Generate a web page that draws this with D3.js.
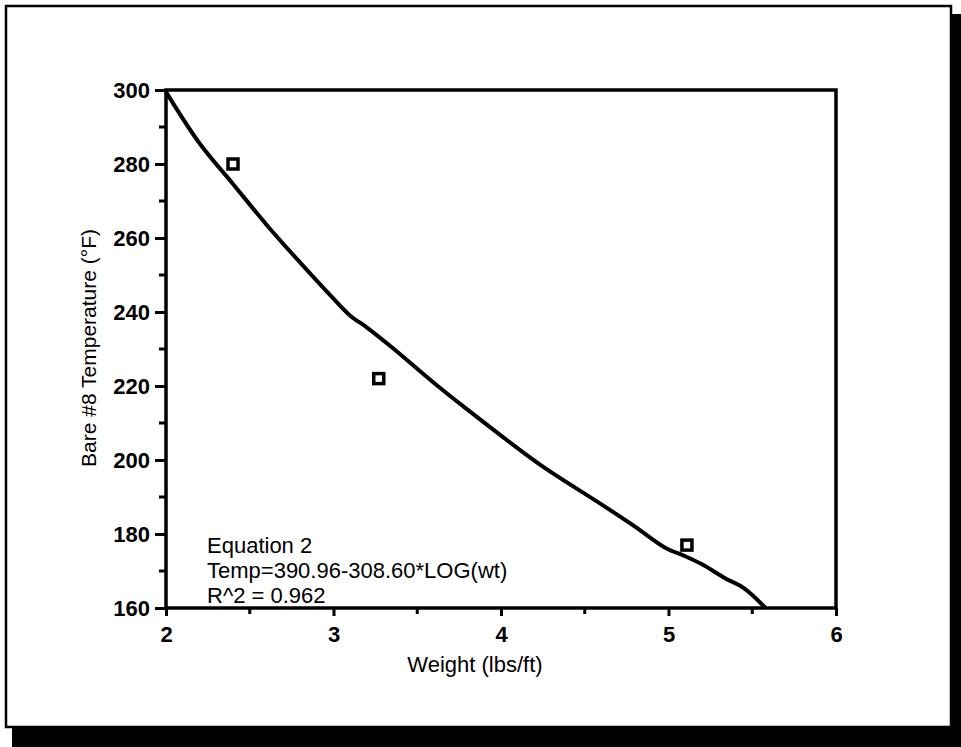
<!DOCTYPE html>
<html>
<head>
<meta charset="utf-8">
<script src="https://cdn.jsdelivr.net/npm/d3@7"></script>
<style>
  body { margin: 0; background: #fff; }
  text { font-family: "Liberation Sans", Arial, sans-serif; fill: #000; }
</style>
</head>
<body>
<script>
// fitted curve
let curveWt   = [2.0, 2.2, 2.4, 2.6, 2.8, 3.0, 3.1, 3.2, 3.35, 3.6, 3.8, 4.0, 4.25, 4.6, 4.8, 4.98, 5.1, 5.2, 5.34, 5.45, 5.58];
let curveTemp = [299.5, 285.6, 274.6, 263.6, 253.4, 243.6, 239.0, 235.8, 230.4, 220.8, 213.6, 206.6, 198.2, 188.0, 182.0, 176.3, 174.0, 171.8, 168.0, 165.4, 160];

// measured points
let pointWt   = [2.40, 3.27, 5.11];
let pointTemp = [280, 222, 177];

let xTicks = [2, 3, 4, 5, 6];
let yTicks = [160, 180, 200, 220, 240, 260, 280, 300];
let xMinor = [2.5, 3.5, 4.5, 5.5];
let yMinor = [170, 190, 210, 230, 250, 270, 290];

let noteLines = ["Equation 2", "Temp=390.96-308.60*LOG(wt)", "R^2 = 0.962"];

function main() {
    let svg = d3.select("body").append("svg")
        .attr("width", 961)
        .attr("height", 747);

    // frame with drop shadow
    svg.append("rect")
        .attr("x", 12).attr("y", 14)
        .attr("width", 949).attr("height", 733)
        .attr("fill", "#000");
    svg.append("rect")
        .attr("x", 6).attr("y", 6)
        .attr("width", 945).attr("height", 721)
        .attr("fill", "#fff")
        .attr("stroke", "#000")
        .attr("stroke-width", 2.5);

    let xScale = d3.scaleLinear().domain([2, 6]).range([166, 836]);
    let yScale = d3.scaleLinear().domain([160, 300]).range([608, 90]);

    let xAxis = d3.axisBottom(xScale).tickValues(xTicks).tickFormat(d3.format("d"))
        .tickSize(8).tickPadding(10);
    let yAxis = d3.axisLeft(yScale).tickValues(yTicks).tickFormat(d3.format("d"))
        .tickSize(11).tickPadding(5);

    let gx = svg.append("g")
        .attr("transform", `translate(0,${608})`)
        .call(xAxis);
    let gy = svg.append("g")
        .attr("transform", `translate(${166},0)`)
        .call(yAxis);

    [gx, gy].forEach(g => {
        g.select(".domain").remove();
        g.selectAll("line").attr("stroke", "#000").attr("stroke-width", 3);
        g.selectAll("text")
            .style("font-size", "22px")
            .style("font-weight", "bold")
            .attr("fill", "#000");
    });

    // minor ticks
    svg.append("g").selectAll("line")
        .data(xMinor).enter().append("line")
        .attr("x1", d => xScale(d)).attr("x2", d => xScale(d))
        .attr("y1", 608).attr("y2", 614)
        .attr("stroke", "#000").attr("stroke-width", 3);
    svg.append("g").selectAll("line")
        .data(yMinor).enter().append("line")
        .attr("y1", d => yScale(d)).attr("y2", d => yScale(d))
        .attr("x1", 166).attr("x2", 159)
        .attr("stroke", "#000").attr("stroke-width", 3);

    // plot box
    svg.append("rect")
        .attr("x", 166).attr("y", 90)
        .attr("width", 836 - 166).attr("height", 608 - 90)
        .attr("fill", "none")
        .attr("stroke", "#000")
        .attr("stroke-width", 3.5);

    // fitted curve
    let line = d3.line()
        .x((d, i) => xScale(curveWt[i]))
        .y(d => yScale(d))
        .curve(d3.curveCatmullRom.alpha(0.5));
    svg.append("path")
        .attr("d", line(curveTemp))
        .attr("fill", "none")
        .attr("stroke", "#000")
        .attr("stroke-width", 4)
        .attr("stroke-linejoin", "round");

    // points
    svg.selectAll(".pt")
        .data(pointWt).enter().append("rect")
        .attr("class", "pt")
        .attr("x", d => xScale(d) - 5)
        .attr("y", (d, i) => yScale(pointTemp[i]) - 5)
        .attr("width", 10).attr("height", 10)
        .attr("fill", "#fff")
        .attr("stroke", "#000")
        .attr("stroke-width", 3.5);

    // axis titles
    svg.append("text")
        .attr("x", 475).attr("y", 672)
        .attr("text-anchor", "middle")
        .style("font-size", "22px")
        .text("Weight (lbs/ft)");

    svg.append("text")
        .attr("transform", "translate(96, 348) rotate(-90)")
        .attr("text-anchor", "middle")
        .style("font-size", "21px")
        .text("Bare #8 Temperature (\u00B0F)");

    // equation note
    svg.append("g").selectAll("text")
        .data(noteLines).enter().append("text")
        .attr("x", 207)
        .attr("y", (d, i) => 553 + i * 25)
        .style("font-size", "22px")
        .text(d => d);
}

main()
</script>
</body>
</html>
